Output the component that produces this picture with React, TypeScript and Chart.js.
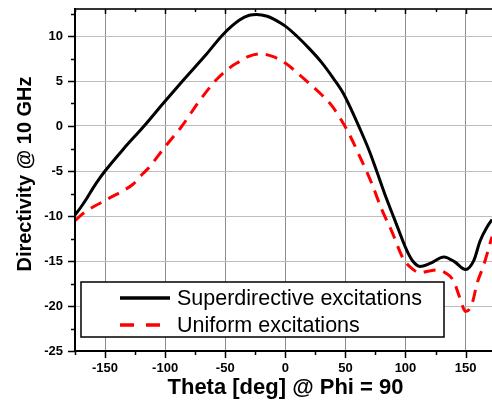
import React, { useEffect, useRef } from "react";
import { Chart, registerables } from "chart.js";

Chart.register(...registerables);

// ---- data ----
const thetaSuper = [
  -175, -170, -165, -160, -155, -150, -135, -117.5, -101.7, -85.5, -65.5, -51.6, -37.8, -30, -24, -15, -10, 0, 9.5, 20,
  30, 40, 48, 55, 61.4, 70, 76, 84, 91, 101, 106, 112, 120, 132, 141, 150, 157, 162, 168, 172,
];
const directivitySuper = [
  -9.9, -9.0, -8.0, -6.9, -5.9, -5.0, -2.6, 0, 2.5, 5, 8.0, 10.2, 11.8, 12.3, 12.4, 12.2, 11.9, 11.1, 10, 8.6,
  7.1, 5.3, 3.7, 1.8, -0.1, -2.8, -5, -8.0, -10.4, -13.8, -15.0, -15.6, -15.3, -14.55, -15.1, -15.95, -14.9, -12.8,
  -11.2, -10.4,
];
const thetaUniform = [
  -175, -168, -160, -153, -145, -135, -127, -120, -114, -100, -86, -72, -57, -45, -39, -31, -21, -10, 0, 10, 21, 30,
  39, 52, 62, 72, 80, 88.6, 98, 105, 112, 120, 127, 133, 140, 145, 150, 155, 160, 165, 172,
];
const directivityUniform = [
  -10.5, -9.7, -9.0, -8.5, -7.9, -7.2, -6.5, -5.5, -4.7, -2.3, 0, 2.7, 5.2, 6.6, 7.1, 7.7, 8.0, 7.7, 7.0, 5.9, 4.6, 3.5,
  2.2, -0.6, -3.4, -6.4, -9.2, -11.7, -14.7, -15.8, -16.3, -16.1, -16.0, -16.3, -17.2, -19.0, -20.6, -19.9, -17.3,
  -15.5, -12.3,
];
const seriesLabels = ["Superdirective excitations", "Uniform excitations"];
const xMajorTicks = [-150, -100, -50, 0, 50, 100, 150];
const xMinorTicks = [-175, -125, -75, -25, 25, 75, 125];
const yMajorTicks = [-25, -20, -15, -10, -5, 0, 5, 10];
const yMinorTicks = [-22.5, -17.5, -12.5, -7.5, -2.5, 2.5, 7.5, 12.5];
const xTitle = "Theta [deg] @ Phi = 90";
const yTitle = "Directivity @ 10 GHz";

const FONT = "Arial, 'Liberation Sans', Helvetica, sans-serif";

const decorPlugin = {
  id: "decor",
  afterDatasetsDraw(chart: any) {
    const ctx = chart.ctx as CanvasRenderingContext2D;
    const { left, right, top, bottom } = chart.chartArea;
    const xs = chart.scales.x;
    const ys = chart.scales.y;
    ctx.save();
    // top axis
    ctx.strokeStyle = "#333333";
    ctx.lineWidth = 2;
    ctx.beginPath();
    ctx.moveTo(left, top);
    ctx.lineTo(right, top);
    ctx.stroke();
    // left & bottom axes
    ctx.strokeStyle = "#000000";
    ctx.beginPath();
    ctx.moveTo(left, top - 1);
    ctx.lineTo(left, bottom + 1);
    ctx.moveTo(left - 1, bottom);
    ctx.lineTo(right, bottom);
    ctx.stroke();
    // ticks
    ctx.lineWidth = 1.5;
    ctx.beginPath();
    for (const v of yMajorTicks) {
      const y = Math.round(ys.getPixelForValue(v)) + 0.5;
      ctx.moveTo(left, y);
      ctx.lineTo(left - 7, y);
    }
    for (const v of yMinorTicks) {
      const y = Math.round(ys.getPixelForValue(v)) + 0.5;
      ctx.moveTo(left, y);
      ctx.lineTo(left - 4, y);
    }
    for (const v of xMajorTicks) {
      const x = Math.round(xs.getPixelForValue(v)) + 0.5;
      ctx.moveTo(x, bottom);
      ctx.lineTo(x, bottom + 7);
      ctx.moveTo(x, top);
      ctx.lineTo(x, top + 5);
    }
    for (const v of xMinorTicks) {
      const x = Math.round(xs.getPixelForValue(v)) + 0.5;
      ctx.moveTo(x, bottom);
      ctx.lineTo(x, bottom + 4);
      ctx.moveTo(x, top);
      ctx.lineTo(x, top + 3);
    }
    ctx.stroke();

    // legend box
    const bx = 81, by = 282, bw = 363, bh = 55;
    ctx.fillStyle = "#ffffff";
    ctx.fillRect(bx, by, bw, bh);
    ctx.strokeStyle = "#000000";
    ctx.lineWidth = 1.5;
    ctx.strokeRect(bx, by, bw, bh);
    const rows = [298, 325];
    const styles = [
      { color: "#000000", dash: [] as number[] },
      { color: "#ff0000", dash: [14, 12] },
    ];
    for (let i = 0; i < seriesLabels.length; i++) {
      ctx.strokeStyle = styles[i].color;
      ctx.lineWidth = 3.5;
      ctx.setLineDash(styles[i].dash);
      ctx.beginPath();
      ctx.moveTo(120, rows[i]);
      ctx.lineTo(170, rows[i]);
      ctx.stroke();
      ctx.setLineDash([]);
      ctx.fillStyle = "#000000";
      ctx.font = `21.5px ${FONT}`;
      ctx.textAlign = "left";
      ctx.textBaseline = "middle";
      ctx.fillText(seriesLabels[i], 177, rows[i] + 1);
    }

    // axis titles
    ctx.fillStyle = "#000000";
    ctx.font = `bold 22px ${FONT}`;
    ctx.textAlign = "center";
    ctx.textBaseline = "middle";
    ctx.fillText(xTitle, (left + right) / 2 + 2, 388);
    ctx.save();
    ctx.translate(25, 174);
    ctx.rotate(-Math.PI / 2);
    ctx.font = `bold 20px ${FONT}`;
    ctx.fillText(yTitle, 0, 0);
    ctx.restore();
    ctx.restore();
  },
};

export default function App() {
  const ref = useRef<HTMLCanvasElement | null>(null);
  useEffect(() => {
    if (!ref.current) return;
    const chart = new Chart(ref.current, {
      type: "line",
      data: {
        datasets: [
          {
            label: seriesLabels[0],
            data: thetaSuper.map((t, i) => ({ x: t, y: directivitySuper[i] })),
            borderColor: "#000000",
            borderWidth: 3,
            pointRadius: 0,
            cubicInterpolationMode: "monotone",
            fill: false,
          },
          {
            label: seriesLabels[1],
            data: thetaUniform.map((t, i) => ({ x: t, y: directivityUniform[i] })),
            borderColor: "#ff0000",
            borderWidth: 3,
            borderDash: [12, 8],
            pointRadius: 0,
            cubicInterpolationMode: "monotone",
            fill: false,
          },
        ],
      },
      options: {
        animation: false,
        responsive: false,
        devicePixelRatio: 1,
        layout: { padding: { top: 9, right: 0, left: 0, bottom: 0 } },
        plugins: { legend: { display: false }, tooltip: { enabled: false } },
        scales: {
          x: {
            type: "linear",
            min: -175,
            max: 172,
            afterBuildTicks: (s: any) => {
              s.ticks = xMajorTicks.map((v) => ({ value: v }));
            },
            afterFit: (s: any) => {
              s.height = 56;
              s.paddingLeft = 0;
              s.paddingRight = 0;
            },
            border: { display: false },
            grid: { color: "#8c8c8c", lineWidth: 1, drawTicks: false },
            ticks: {
              padding: 10,
              color: "#000000",
              font: { family: FONT, size: 13, weight: "bold" },
              maxRotation: 0,
              autoSkip: false,
            },
          },
          y: {
            type: "linear",
            min: -25,
            max: 13,
            afterBuildTicks: (s: any) => {
              s.ticks = yMajorTicks.map((v) => ({ value: v }));
            },
            afterFit: (s: any) => {
              s.width = 75;
              s.paddingTop = 0;
              s.paddingBottom = 0;
            },
            border: { display: false },
            grid: { color: "#bdbdbd", lineWidth: 1, drawTicks: false },
            ticks: {
              padding: 12,
              color: "#000000",
              font: { family: FONT, size: 13, weight: "bold" },
              autoSkip: false,
            },
          },
        },
      },
      plugins: [decorPlugin],
    } as any);
    return () => chart.destroy();
  }, []);
  return (
    <div style={{ position: "fixed", left: 0, top: 0, width: 492, height: 407, background: "#ffffff" }}>
      <canvas ref={ref} width={492} height={407} style={{ display: "block" }} />
    </div>
  );
}
